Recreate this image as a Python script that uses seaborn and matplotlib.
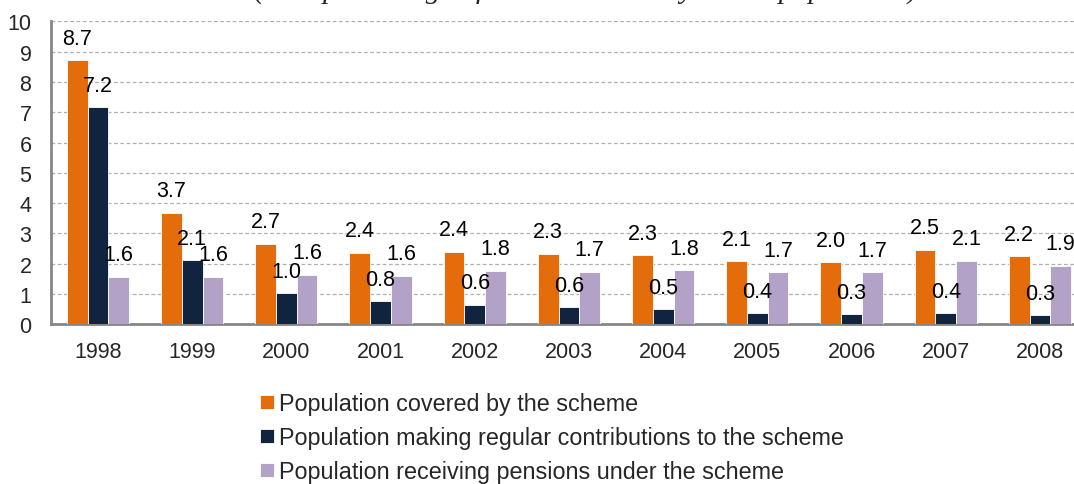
import pandas as pd
import seaborn as sns
from matplotlib import pyplot as plt

sns.set_style('white')
plt.rcParams['font.family'] = ['Liberation Sans', 'DejaVu Sans']

# data
years = ['1998', '1999', '2000', '2001', '2002', '2003', '2004', '2005', '2006', '2007', '2008']
covered = [8.72, 3.68, 2.66, 2.36, 2.4, 2.32, 2.28, 2.08, 2.04, 2.46, 2.24]
contrib = [7.16, 2.12, 1.02, 0.76, 0.64, 0.57, 0.49, 0.36, 0.33, 0.36, 0.3]
pensions = [1.57, 1.57, 1.63, 1.6, 1.76, 1.74, 1.78, 1.71, 1.72, 2.1, 1.93]
series = ['Population covered by the scheme',
          'Population making regular contributions to the scheme',
          'Population receiving pensions under the scheme']
colors = ['#E46C0A', '#10243F', '#B3A2C7']
title = '(As a percentage of the economically active population)'

df = pd.DataFrame({'year': years * 3,
                   'value': covered + contrib + pensions,
                   'series': [series[0]] * 11 + [series[1]] * 11 + [series[2]] * 11})

fig = plt.figure(figsize=(10.74, 4.85), dpi=100)
ax = fig.add_axes([0.0474, 0.3293, 0.9647, 0.6247])

sns.barplot(data=df, x='year', y='value', hue='series', hue_order=series,
            palette=colors, saturation=1, width=0.66, gap=0, edgecolor='white',
            linewidth=0.6, errorbar=None, ax=ax, zorder=3)

for cont in ax.containers:
    for p in cont:
        h = p.get_height()
        ax.annotate('%.1f' % h, (p.get_x() + p.get_width() / 2, h),
                    xytext=(0, 22), textcoords='offset pixels',
                    ha='center', va='center', fontsize=15.5, color='black',
                    annotation_clip=False, zorder=5)

ax.set_ylim(0, 10)
ax.set_xlim(-0.5, 10.5)
ax.set_yticks(range(0, 11))
ax.set_xlabel('')
ax.set_ylabel('')
ax.yaxis.grid(True, linestyle=(0, (3, 2)), color='#B0B0B0', linewidth=0.9, zorder=0)
ax.set_axisbelow(True)

# ticks at category boundaries
ax.set_xticks([i + 0.5 for i in range(-1, 11)], minor=True)
ax.tick_params(axis='x', which='minor', length=6, width=1.5, color='#868686', direction='out')
ax.tick_params(axis='x', which='major', length=0, labelsize=15.5, pad=12)
ax.tick_params(axis='y', length=6, width=1.5, color='#868686', direction='out', labelsize=15.5, pad=8)

sns.despine(ax=ax, top=True, right=True)
for s in ['left', 'bottom']:
    ax.spines[s].set_color('#868686')
    ax.spines[s].set_linewidth(2)

ax.legend_.remove()
handles, labels = ax.get_legend_handles_labels()
fig.legend(handles, labels, loc='upper left', bbox_to_anchor=(260 / 1074, 1 - 393 / 485),
           frameon=False, fontsize=16.8, handlelength=0.58, handleheight=0.58,
           handletextpad=0.25, labelspacing=0.48, borderaxespad=0, borderpad=0)

# title sits mostly above the top edge, as in the original
fig.text(0.545, 1 + 1.5 / 485, title, ha='center', va='baseline', fontsize=21.3,
         style='italic', family=['Liberation Serif', 'DejaVu Serif'])

plt.savefig('out.png', dpi=100)
